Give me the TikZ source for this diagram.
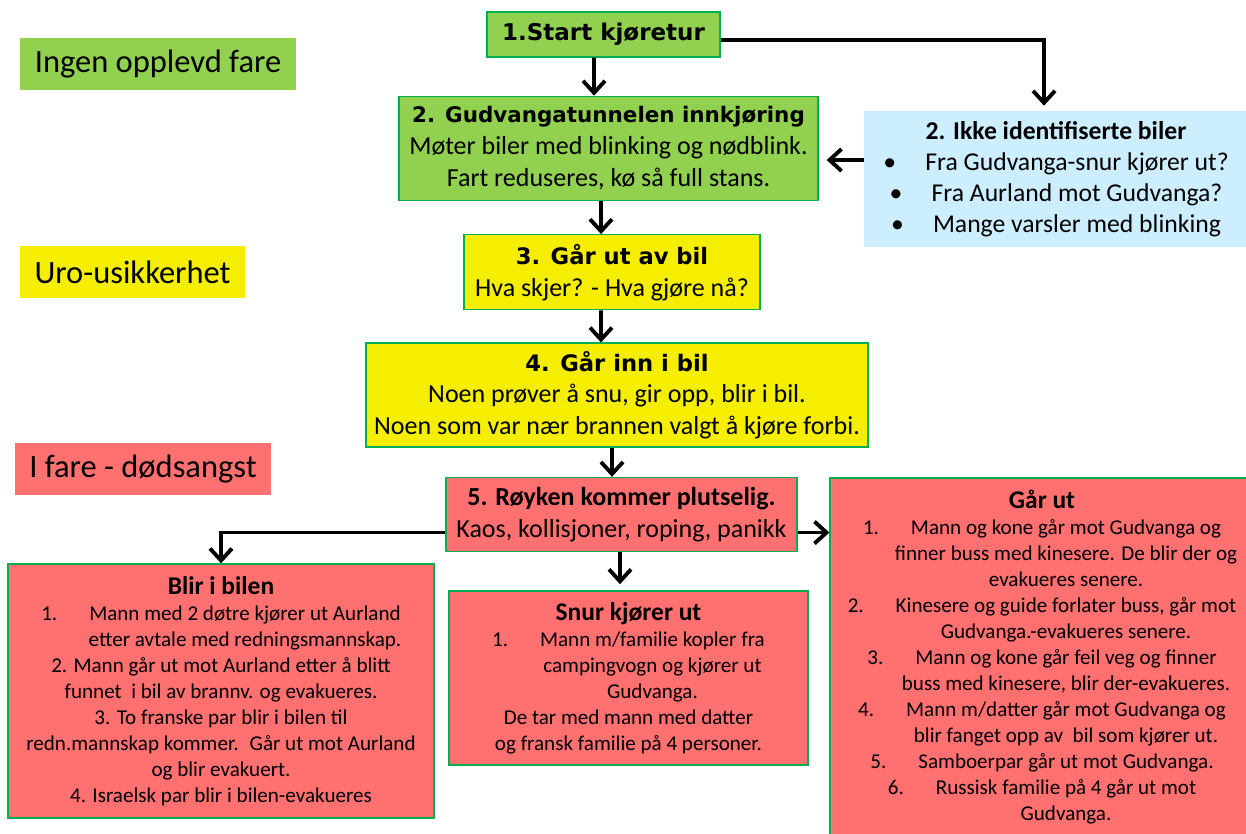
\documentclass[tikz,border=0pt]{standalone}
\usepackage{fontspec}
\setmainfont{Carlito}
\newfontfamily\comicfont{DejaVu Sans}
\usetikzlibrary{arrows.meta,positioning}

\definecolor{grn}{HTML}{92D050}
\definecolor{grnline}{HTML}{00B050}
\definecolor{ylw}{HTML}{F5EE00}
\definecolor{rd}{HTML}{FF7070}
\definecolor{lblue}{HTML}{CCEEFF}

\newcommand{\numit}[1]{\makebox[0.96cm][l]{#1}}
\newcommand{\hangin}{\hspace*{0.96cm}}
\newcommand{\bulit}{\makebox[0.84cm][l]{\textbullet}}
\newcommand{\ttl}[2][12.9]{{\comicfont\bfseries\fontsize{#1}{15}\selectfont #2}}

\begin{document}
\begin{tikzpicture}[
  x=0.02cm,y=-0.02cm,
  every node/.style={align=center,inner sep=0pt},
  box/.style={draw=grnline,line width=0.8pt},
  legend/.style={font=\fontsize{18.5}{21}\selectfont,minimum height=1.04cm},
  upper/.style={font=\fontsize{14.8}{18.2}\selectfont},
  lower/.style={font=\fontsize{12}{14.8}\selectfont},
  arr/.style={-{Straight Barb[length=2.4mm,width=4.4mm]},line width=2.2pt}
]
\useasboundingbox (0,0) rectangle (1246,833);

% ============================================================
% LEFT: legend
% ============================================================

\node[legend,fill=grn,minimum width=5.52cm] (L1) at (158,64) {Ingen opplevd fare};
\node[legend,fill=ylw,minimum width=4.5cm] (L2) at (132.5,272) {Uro-usikkerhet};
\node[legend,fill=rd,minimum width=5.12cm] (L3) at (143,469) {I fare - dødsangst};

% ============================================================
% MAIN COLUMN
% ============================================================

\node[box,fill=grn,minimum width=4.66cm,minimum height=0.9cm] (S1) at (603.5,34.5) {\ttl[13.1]{1.Start kjøretur}};
\node[box,fill=grn,upper,minimum width=8.38cm,minimum height=2.08cm,below=0.76cm of S1,xshift=0.1cm] (S2) {\ttl[12.2]{2. Gudvangatunnelen innkjøring}\\Møter biler med blinking og nødblink.\\Fart reduseres, kø så full stans.};
\node[box,fill=ylw,upper,minimum width=5.92cm,minimum height=1.5cm,below=0.66cm of S2,xshift=0.07cm] (S3) {\ttl{3. Går ut av bil}\\Hva skjer? - Hva gjøre nå?};
\node[box,fill=ylw,upper,minimum width=10.04cm,minimum height=2.08cm,below=0.64cm of S3,xshift=0.1cm] (S4) {\ttl{4. Går inn i bil}\\Noen prøver å snu, gir opp, blir i bil.\\Noen som var nær brannen valgt å kjøre forbi.};
\node[box,fill=rd,upper,minimum width=7.02cm,minimum height=1.48cm,below=0.58cm of S4,xshift=0.09cm] (S5) {{\bfseries 5. Røyken kommer plutselig.}\\Kaos, kollisjoner, roping, panikk};

% ============================================================
% RIGHT: unidentified cars
% ============================================================

\node[fill=lblue,font=\fontsize{14.6}{17.6}\selectfont,minimum width=7.68cm,minimum height=2.72cm] (BL) at (1056,179) {{\bfseries 2. Ikke identifiserte biler}\\\bulit Fra Gudvanga-snur kjører ut?\\\bulit Fra Aurland mot Gudvanga?\\\bulit Mange varsler med blinking};

% ============================================================
% BOTTOM ROW: outcomes
% ============================================================

\node[box,fill=rd,lower,minimum width=8.52cm,minimum height=5.08cm] (R1) at (221,691) {{\bfseries\fontsize{14.5}{15}\selectfont Blir i bilen}\\
\numit{1.}Mann med 2 døtre kjører ut Aurland\\
\hangin etter avtale med redningsmannskap.\\
2. Mann går ut mot Aurland etter å blitt\\
funnet~ i bil av brannv. og evakueres.\\
3. To franske par blir i bilen til\\
redn.mannskap kommer.~ Går ut mot Aurland\\
og blir evakuert.\\
4. Israelsk par blir i bilen-evakueres};

\node[box,fill=rd,lower,minimum width=7.18cm,minimum height=3.48cm,below=0.76cm of S5,xshift=0.14cm] (R2) {{\bfseries\fontsize{14.5}{15}\selectfont Snur kjører ut}\\
\numit{1.}Mann m/familie kopler fra\\
\hangin campingvogn og kjører ut\\
\hangin Gudvanga.\\
De tar med mann med datter\\
og fransk familie på 4 personer.};

\node[box,fill=rd,lower,minimum width=8.48cm,minimum height=7.16cm] (R3) at (1042,657) {{\bfseries\fontsize{14.5}{15}\selectfont Går ut}\\
\numit{1.}Mann og kone går mot Gudvanga og\\
\hangin finner buss med kinesere. De blir der og\\
\hangin evakueres senere.\\
\numit{2.}Kinesere og guide forlater buss, går mot\\
\hangin Gudvanga.-evakueres senere.\\
\numit{3.}Mann og kone går feil veg og finner\\
\hangin buss med kinesere, blir der-evakueres.\\
\numit{4.}Mann m/datter går mot Gudvanga og\\
\hangin blir fanget opp av~ bil som kjører ut.\\
\numit{5.}Samboerpar går ut mot Gudvanga.\\
\numit{6.}Russisk familie på 4 går ut mot\\
\hangin Gudvanga.};

% ============================================================
% ARROWS
% ============================================================

\coordinate (k1) at ([yshift=0.38cm]BL.west);
\coordinate (k5) at ([yshift=-0.36cm]S5.east);

\draw[arr] ([xshift=-0.19cm]S1.south) -- ([xshift=-0.29cm]S2.north);
\draw[arr] ([yshift=-0.11cm]S1.east) -| ([xshift=-0.24cm,yshift=0.1cm]BL.north);
\draw[arr] (k1) -- ([xshift=0.16cm]k1 -| S2.east);
\draw[arr] ([xshift=-0.15cm]S2.south) -- ([xshift=-0.22cm]S3.north);
\draw[arr] ([xshift=-0.22cm]S3.south) -- ([xshift=-0.32cm]S4.north);
\draw[arr] ([xshift=-0.1cm]S4.south) -- ([xshift=-0.19cm]S5.north);
\draw[arr] ([yshift=-0.36cm]S5.west) -| (R1.north);
\draw[arr] ([xshift=-0.03cm]S5.south) -- ([xshift=-0.17cm,yshift=0.12cm]R2.north);
\draw[arr] (k5) -- (k5 -| R3.west);

\end{tikzpicture}
\end{document}
